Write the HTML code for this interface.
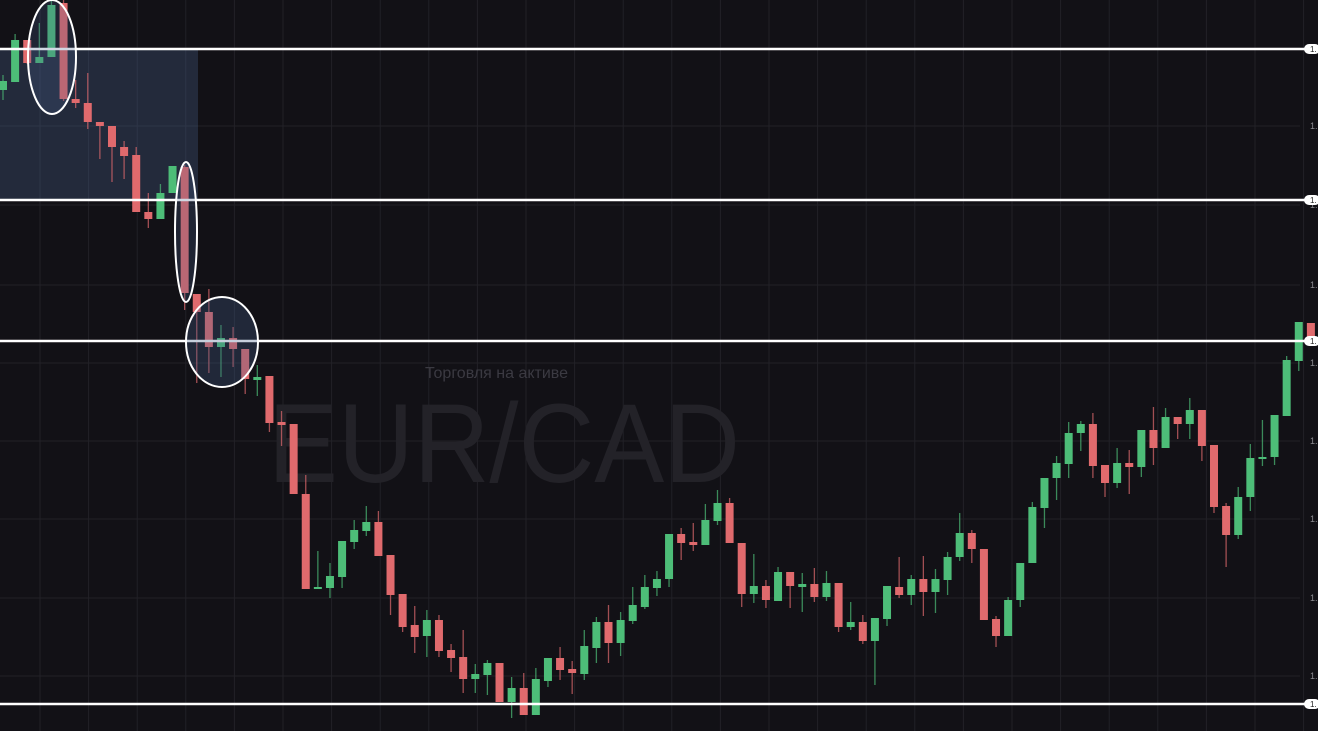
<!DOCTYPE html>
<html><head><meta charset="utf-8">
<style>
html,body{margin:0;padding:0;background:#121116;overflow:hidden}
svg{display:block;font-family:"Liberation Sans","Noto Sans CJK SC",sans-serif}
</style></head>
<body>
<svg id="chart" width="1318" height="731" viewBox="0 0 1318 731" xmlns="http://www.w3.org/2000/svg">
<rect x="0" y="0" width="1318" height="731" fill="#121116"/>
<g id="grid"></g>
<rect x="0" y="49" width="198" height="151" fill="rgba(70,95,140,0.32)"/>
<text x="425" y="378" font-size="16" fill="#3b3a42">Торговля на активе</text>
<text x="268" y="482" font-size="112" fill="#232228" textLength="472" lengthAdjust="spacingAndGlyphs">EUR/CAD</text>
<g id="candles"></g>
<g id="levels"></g>
<ellipse cx="52" cy="57" rx="24" ry="57" fill="rgba(70,95,140,0.25)" stroke="#fff" stroke-width="2"/>
<ellipse cx="186" cy="232" rx="11" ry="70" fill="rgba(70,95,140,0.25)" stroke="#fff" stroke-width="2"/>
<ellipse cx="222" cy="342" rx="36" ry="45" fill="rgba(70,95,140,0.3)" stroke="#fff" stroke-width="2"/>
</svg>
<script>
// OHLC values (in pips, higher = higher price)
const opens  = [910,918,960,937,943,997,901,897,878,874,853,845,788,781,807,833,706,688,653,662,651,620,624,578,576,506,411,412,423,458,469,478,445,406,375,364,380,350,343,321,325,337,298,312,285,319,342,331,326,352,378,357,379,393,412,421,466,458,455,479,497,457,406,414,399,428,413,416,403,417,373,378,359,381,413,405,421,408,420,443,467,451,381,364,400,437,492,522,536,567,576,535,517,537,533,570,552,583,576,590,555,494,465,503,541,543,584,639,677];
const highs  = [925,966,960,977,1000,1000,920,927,878,874,859,853,807,816,834,835,706,711,675,673,651,635,624,589,576,525,449,437,459,480,494,489,445,406,394,390,385,356,370,336,340,337,323,327,332,342,353,339,370,383,395,388,413,425,429,466,472,477,496,510,502,457,446,420,433,428,427,432,429,417,398,385,382,414,443,425,444,431,448,487,470,451,384,403,437,498,522,544,578,579,587,535,552,550,570,593,592,583,602,590,555,497,513,556,580,585,644,678,677];
const lows   = [900,918,936,937,943,899,892,871,841,818,821,788,772,781,807,690,617,627,623,633,606,604,568,554,506,411,411,402,412,451,464,444,385,368,347,343,343,328,307,307,305,298,282,285,285,313,320,306,320,337,337,344,376,391,404,413,440,449,455,475,457,393,397,392,399,392,388,398,399,368,370,356,315,374,402,395,384,387,405,439,437,380,353,364,393,437,472,500,522,549,522,503,512,506,523,535,552,561,561,539,487,433,461,489,534,535,584,629,655];
const closes = [919,960,937,943,995,901,897,878,874,853,844,788,781,807,834,707,688,653,662,651,621,623,577,575,506,411,413,424,459,470,478,444,405,373,363,380,349,342,321,326,337,298,312,285,321,342,330,327,354,378,357,380,395,413,421,466,457,455,480,497,457,406,414,400,428,414,416,403,417,373,378,359,382,414,405,421,408,421,443,467,451,380,364,400,437,493,522,537,567,576,534,517,537,533,570,552,583,576,590,554,493,465,503,542,543,585,640,678,655];
const levelValues = [951,800,659,296];
const gridValues  = [952,874,795,715,637,559,481,402,324];

const NS="http://www.w3.org/2000/svg";
const x0=3, step=12.11, bodyW=8;
function xScale(i){return x0+i*step;}
function yScale(v){return 1000-v;}

const grid=document.getElementById('grid');
for(let gx=40;gx<1305;gx+=48.6){
  const l=document.createElementNS(NS,'line');
  
  
  l.setAttribute('x1',gx);l.setAttribute('x2',gx);l.setAttribute('y1',0);l.setAttribute('y2',731);
  l.setAttribute('stroke','#222127');l.setAttribute('stroke-width','1');
  grid.appendChild(l);
}
gridValues.forEach(v=>{
  const y=yScale(v);
  const l=document.createElementNS(NS,'line');
  
  
  l.setAttribute('x1',0);l.setAttribute('x2',1300);l.setAttribute('y1',y);l.setAttribute('y2',y);
  l.setAttribute('stroke','#222127');l.setAttribute('stroke-width','1');
  grid.appendChild(l);
  const t=document.createElementNS(NS,'text');
  
  
  t.setAttribute('x',1310);t.setAttribute('y',y+3);t.setAttribute('font-size','9');t.setAttribute('fill','#8a8a90');
  t.textContent='1.';
  grid.appendChild(t);
});

const cg=document.getElementById('candles');
opens.forEach((o,i)=>{
  const c=closes[i], up=c>=o;
  const col=up?'#4dbd78':'#e06a6d';
  const cx=xScale(i);
  const w=document.createElementNS(NS,'line');
  
  
  w.setAttribute('x1',cx);w.setAttribute('x2',cx);
  w.setAttribute('y1',yScale(highs[i]));w.setAttribute('y2',yScale(lows[i]));
  w.setAttribute('stroke',col);w.setAttribute('stroke-opacity','0.7');w.setAttribute('stroke-width','1.3');
  cg.appendChild(w);
  const b=document.createElementNS(NS,'rect');
  
  
  const top=yScale(Math.max(o,c)), h=Math.max(2,Math.abs(o-c));
  b.setAttribute('x',cx-bodyW/2);b.setAttribute('y',top);b.setAttribute('width',bodyW);b.setAttribute('height',h);
  b.setAttribute('fill',col);
  cg.appendChild(b);
});

const lg=document.getElementById('levels');
levelValues.forEach(v=>{
  const y=yScale(v);
  const l=document.createElementNS(NS,'line');
  
  
  l.setAttribute('x1',0);l.setAttribute('x2',1308);l.setAttribute('y1',y);l.setAttribute('y2',y);
  l.setAttribute('stroke','#ffffff');l.setAttribute('stroke-width','2.5');
  lg.appendChild(l);
  const p=document.createElementNS(NS,'rect');
  
  
  p.setAttribute('x',1304);p.setAttribute('y',y-5);p.setAttribute('width',16);p.setAttribute('height',10);p.setAttribute('rx',5);
  p.setAttribute('fill','#ffffff');
  lg.appendChild(p);
  const t=document.createElementNS(NS,'text');
  
  
  t.setAttribute('x',1310);t.setAttribute('y',y+3);t.setAttribute('font-size','8');t.setAttribute('fill','#222');
  t.textContent='1.';
  lg.appendChild(t);
});
</script>
</body></html>
